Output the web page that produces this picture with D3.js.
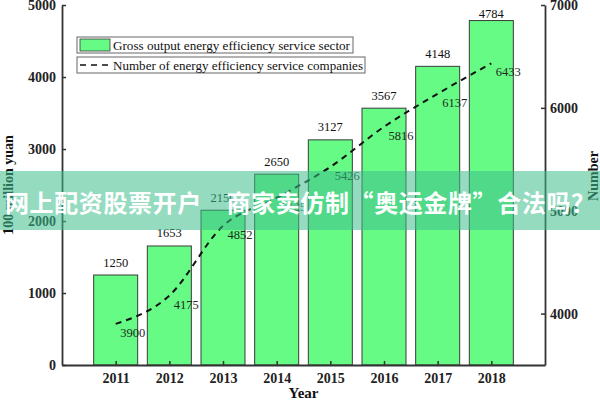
<!DOCTYPE html>
<html>
<head>
<meta charset="utf-8">
<script src="https://cdn.jsdelivr.net/npm/d3@7"></script>
<style>
  html, body { margin: 0; padding: 0; background: #fff; }
  svg { display: block; }
  .serif { font-family: "Liberation Serif", "DejaVu Serif", serif; }
</style>
</head>
<body>
<svg id="chart" width="600" height="400"></svg>
<script>
// ---- data ----
const years = [2011, 2012, 2013, 2014, 2015, 2016, 2017, 2018];
const grossOutput = [1250, 1653, 2150, 2650, 3127, 3567, 4148, 4784];
const companies = [3900, 4175, 4852, 5125, 5426, 5816, 6137, 6433];
const leftTicks = [0, 1000, 2000, 3000, 4000, 5000];
const rightTicks = [4000, 5000, 6000, 7000];
const seriesNames = ["Gross output energy efficiency service sector", "Number of energy efficiency service companies"];
const xTitle = "Year";
const yLeftTitle = "100 million yuan";
const yRightTitle = "Number";
const overlayText = "网上配资股票开户　商家卖仿制“奥运金牌”合法吗？";

// ---- layout ----
const svg = d3.select("#chart");
const L = 62, R = 545, T = 5, B = 365;
svg.append("rect").attr("width", 600).attr("height", 400).attr("fill", "#fff");

const x = d3.scaleLinear().domain([2010, 2019]).range([L, R]);
const yL = d3.scaleLinear().domain([0, 5000]).range([B, T]);
const yR = d3.scaleLinear().domain([3500, 7000]).range([B, T]);
const barW = (x(2011) - x(2010)) * 0.82;

// bars
svg.append("g").selectAll("rect").data(years).join("rect")
  .attr("x", (d) => x(d) - barW / 2)
  .attr("y", (d, i) => yL(grossOutput[i]))
  .attr("width", barW)
  .attr("height", (d, i) => B - yL(grossOutput[i]))
  .attr("fill", "#66fb84")
  .attr("stroke", "#3a3a3a")
  .attr("stroke-width", 1);

// bar labels
svg.append("g").attr("class", "serif").selectAll("text").data(years).join("text")
  .attr("x", (d) => x(d))
  .attr("y", (d, i) => Math.max(yL(grossOutput[i]) - 8.5, 18))
  .attr("text-anchor", "middle")
  .attr("font-size", 12.5)
  .attr("fill", "#111")
  .text((d, i) => grossOutput[i]);

// line
const line = d3.line()
  .x((d) => x(d))
  .y((d, i) => yR(companies[i]))
  .curve(d3.curveMonotoneX);
svg.append("path").datum(years)
  .attr("d", line)
  .attr("fill", "none")
  .attr("stroke", "#111")
  .attr("stroke-width", 2)
  .attr("stroke-dasharray", "6,5");

// line labels
svg.append("g").attr("class", "serif").selectAll("text").data(years).join("text")
  .attr("x", (d) => x(d) + 4.5)
  .attr("y", (d, i) => yR(companies[i]) + 13)
  .attr("font-size", 12.5)
  .attr("fill", "#1d2a1d")
  .text((d, i) => companies[i]);

// axes
const fmt = d3.format("d");
function styleAxis(g) {
  g.selectAll("path.domain").attr("stroke", "#333").attr("stroke-width", 1.8);
  g.selectAll(".tick line").attr("stroke", "#333").attr("stroke-width", 1.5);
  g.selectAll("text").attr("font-family", "Liberation Serif, serif")
    .attr("font-size", 14).attr("font-weight", "bold").attr("fill", "#222");
}
svg.append("g").attr("transform", `translate(${L},0)`)
  .call(d3.axisLeft(yL).tickValues(leftTicks).tickFormat(fmt).tickSizeInner(-4).tickSizeOuter(0).tickPadding(6))
  .call(styleAxis);
svg.append("g").attr("transform", `translate(${R},0)`)
  .call(d3.axisRight(yR).tickValues(rightTicks).tickFormat(fmt).tickSizeInner(-4).tickSizeOuter(0).tickPadding(5))
  .call(styleAxis);
svg.append("g").attr("transform", `translate(0,${B})`)
  .call(d3.axisBottom(x).tickValues(years).tickFormat(fmt).tickSizeInner(-4).tickSizeOuter(0).tickPadding(8))
  .call(styleAxis);

// titles
svg.append("text").attr("class", "serif")
  .attr("x", (L + R) / 2).attr("y", 398)
  .attr("text-anchor", "middle").attr("font-size", 15).attr("font-weight", "bold")
  .attr("fill", "#111").text(xTitle);
svg.append("text").attr("class", "serif")
  .attr("transform", "translate(13,185) rotate(-90)")
  .attr("text-anchor", "middle").attr("font-size", 14).attr("font-weight", "bold")
  .attr("fill", "#111").text(yLeftTitle);
svg.append("text").attr("class", "serif")
  .attr("transform", "translate(598,176) rotate(-90)")
  .attr("text-anchor", "middle").attr("font-size", 14).attr("font-weight", "bold")
  .attr("fill", "#111").text(yRightTitle);

// legend
const leg = svg.append("g").attr("class", "serif");
const legBoxes = [{ y: 37, w: 276, tw: 237 }, { y: 57, w: 288, tw: 250 }];
seriesNames.forEach((name, i) => {
  const g = leg.append("g").attr("transform", `translate(77,${legBoxes[i].y})`);
  g.append("rect").attr("width", legBoxes[i].w).attr("height", 16)
    .attr("fill", "#fff").attr("stroke", "#666").attr("stroke-width", 1);
  if (i === 0) {
    g.append("rect").attr("x", 3).attr("y", 2).attr("width", 30).attr("height", 12)
      .attr("fill", "#66fb84").attr("stroke", "#3a3a3a").attr("stroke-width", 0.8);
  } else {
    g.append("line").attr("x1", 3).attr("x2", 33).attr("y1", 8).attr("y2", 8)
      .attr("stroke", "#111").attr("stroke-width", 1.5).attr("stroke-dasharray", "6,5");
  }
  g.append("text").attr("x", 36).attr("y", 12.5)
    .attr("font-size", 12.5).attr("fill", "#111")
    .attr("textLength", legBoxes[i].tw).attr("lengthAdjust", "spacingAndGlyphs")
    .text(name);
});

// overlay band with text
svg.append("rect").attr("x", 0).attr("y", 171).attr("width", 600).attr("height", 59)
  .attr("fill", "rgb(60,190,140)").attr("fill-opacity", 0.55);
svg.append("text")
  .attr("x", 5).attr("y", 201)
  .attr("dominant-baseline", "central")
  .attr("font-family", "Noto Sans CJK SC, sans-serif")
  .attr("font-size", 24).attr("font-weight", "bold")
  .attr("fill", "#fff")
  .attr("textLength", 590).attr("lengthAdjust", "spacing")
  .text(overlayText);
</script>
</body>
</html>
